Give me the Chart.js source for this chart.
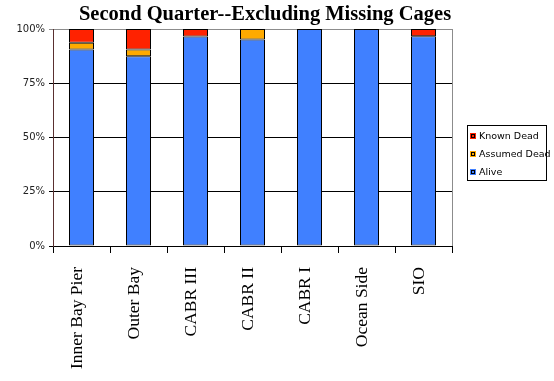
<!DOCTYPE html>
<html>
<head>
<meta charset="utf-8">
<script src="https://cdn.jsdelivr.net/npm/chart.js@4/dist/chart.umd.min.js"></script>
<style>
  html, body { margin: 0; padding: 0; background: #fff; }
  #wrap { width: 554px; height: 381px; }
</style>
</head>
<body>
<div id="wrap"><canvas id="cages-chart"></canvas></div>
<script>
const sites = ['Inner Bay Pier', 'Outer Bay', 'CABR III', 'CABR II', 'CABR I', 'Ocean Side', 'SIO'];
const alive = [90.6, 87.5, 96.6, 95.2, 100, 100, 96.7];
const assumedDead = [3.1, 3.1, 0, 4.8, 0, 0, 0];
const knownDead = [6.3, 9.4, 3.4, 0, 0, 0, 3.3];
const yTicks = [0, 25, 50, 75, 100];

const titleText = 'Second Quarter--Excluding Missing Cages';

// title centred over the plot + legend block
const titlePlugin = {
  id: 'quarterTitle',
  afterDraw(chart) {
    const ctx = chart.ctx;
    ctx.save();
    ctx.font = 'bold 20.5px "Liberation Serif", "Times New Roman", serif';
    ctx.fillStyle = '#000';
    ctx.textAlign = 'center';
    ctx.textBaseline = 'alphabetic';
    ctx.fillText(titleText, 265, 20);
    ctx.restore();
  }
};

// grey line closing the plot area on the right
const framePlugin = {
  id: 'plotFrame',
  beforeDatasetsDraw(chart) {
    const a = chart.chartArea;
    const ctx = chart.ctx;
    ctx.save();
    ctx.strokeStyle = '#8c8c8c';
    ctx.lineWidth = 1;
    ctx.beginPath();
    ctx.moveTo(Math.round(a.right) + 0.5, Math.round(a.top));
    ctx.lineTo(Math.round(a.right) + 0.5, Math.round(a.bottom));
    ctx.stroke();
    ctx.restore();
  }
};

// boxed legend on the right, top series first
const legendPlugin = {
  id: 'sideLegend',
  afterDraw(chart) {
    const ctx = chart.ctx;
    const x = 467, y = 125, w = 79, h = 55;
    ctx.save();
    ctx.strokeStyle = '#000';
    ctx.lineWidth = 1;
    ctx.strokeRect(x + 0.5, y + 0.5, w, h);
    ctx.font = '9.5px "DejaVu Sans", Verdana, sans-serif';
    ctx.textBaseline = 'middle';
    ctx.textAlign = 'left';
    const items = chart.data.datasets.slice().reverse();
    items.forEach((ds, i) => {
      const cy = 136 + i * 18;
      ctx.fillStyle = ds.backgroundColor;
      ctx.fillRect(470, cy - 3, 6, 6);
      ctx.strokeStyle = '#000';
      ctx.strokeRect(471.5, cy - 1.5, 3, 3);
      ctx.fillStyle = '#000';
      ctx.fillText(ds.label, 479, cy + 0.5);
    });
    ctx.restore();
  }
};

const barStyle = {
  borderColor: '#000',
  borderWidth: 1,
  borderSkipped: false,
  inflateAmount: 0,
  barThickness: 25
};

new Chart(document.getElementById('cages-chart'), {
  type: 'bar',
  data: {
    labels: sites,
    datasets: [
      { label: 'Alive', data: alive, backgroundColor: '#4080ff', ...barStyle },
      { label: 'Assumed Dead', data: assumedDead, backgroundColor: '#ffaa00', ...barStyle },
      { label: 'Known Dead', data: knownDead, backgroundColor: '#ff2200', ...barStyle }
    ]
  },
  options: {
    responsive: true,
    maintainAspectRatio: false,
    animation: false,
    layout: { padding: { top: 29, right: 102, left: 0, bottom: 0 } },
    plugins: {
      legend: { display: false },
      title: { display: false },
      tooltip: { enabled: false }
    },
    scales: {
      x: {
        stacked: true,
        offset: true,
        border: { color: '#000', width: 1 },
        grid: {
          offset: true,
          drawOnChartArea: false,
          drawTicks: true,
          tickLength: 7,
          color: '#000'
        },
        ticks: {
          minRotation: 90,
          maxRotation: 90,
          padding: 14,
          labelOffset: -4,
          color: '#000',
          font: { family: '"Liberation Serif", "Times New Roman", serif', size: 17.5 }
        },
        afterFit(scale) { scale.height = 135; }
      },
      y: {
        stacked: true,
        min: 0,
        max: 100,
        afterBuildTicks(scale) { scale.ticks = yTicks.map(v => ({ value: v })); },
        border: { color: '#5a3030', width: 1 },
        grid: {
          color: ctx => (ctx.tick && ctx.tick.value === 100 ? '#8c8c8c' : '#000'),
          tickLength: 4
        },
        ticks: {
          padding: 4,
          color: '#222',
          font: { family: '"DejaVu Sans", Verdana, sans-serif', size: 10 },
          callback: v => v + '%'
        },
        afterFit(scale) { scale.width = 53; }
      }
    }
  },
  plugins: [titlePlugin, framePlugin, legendPlugin]
});
</script>
</body>
</html>
